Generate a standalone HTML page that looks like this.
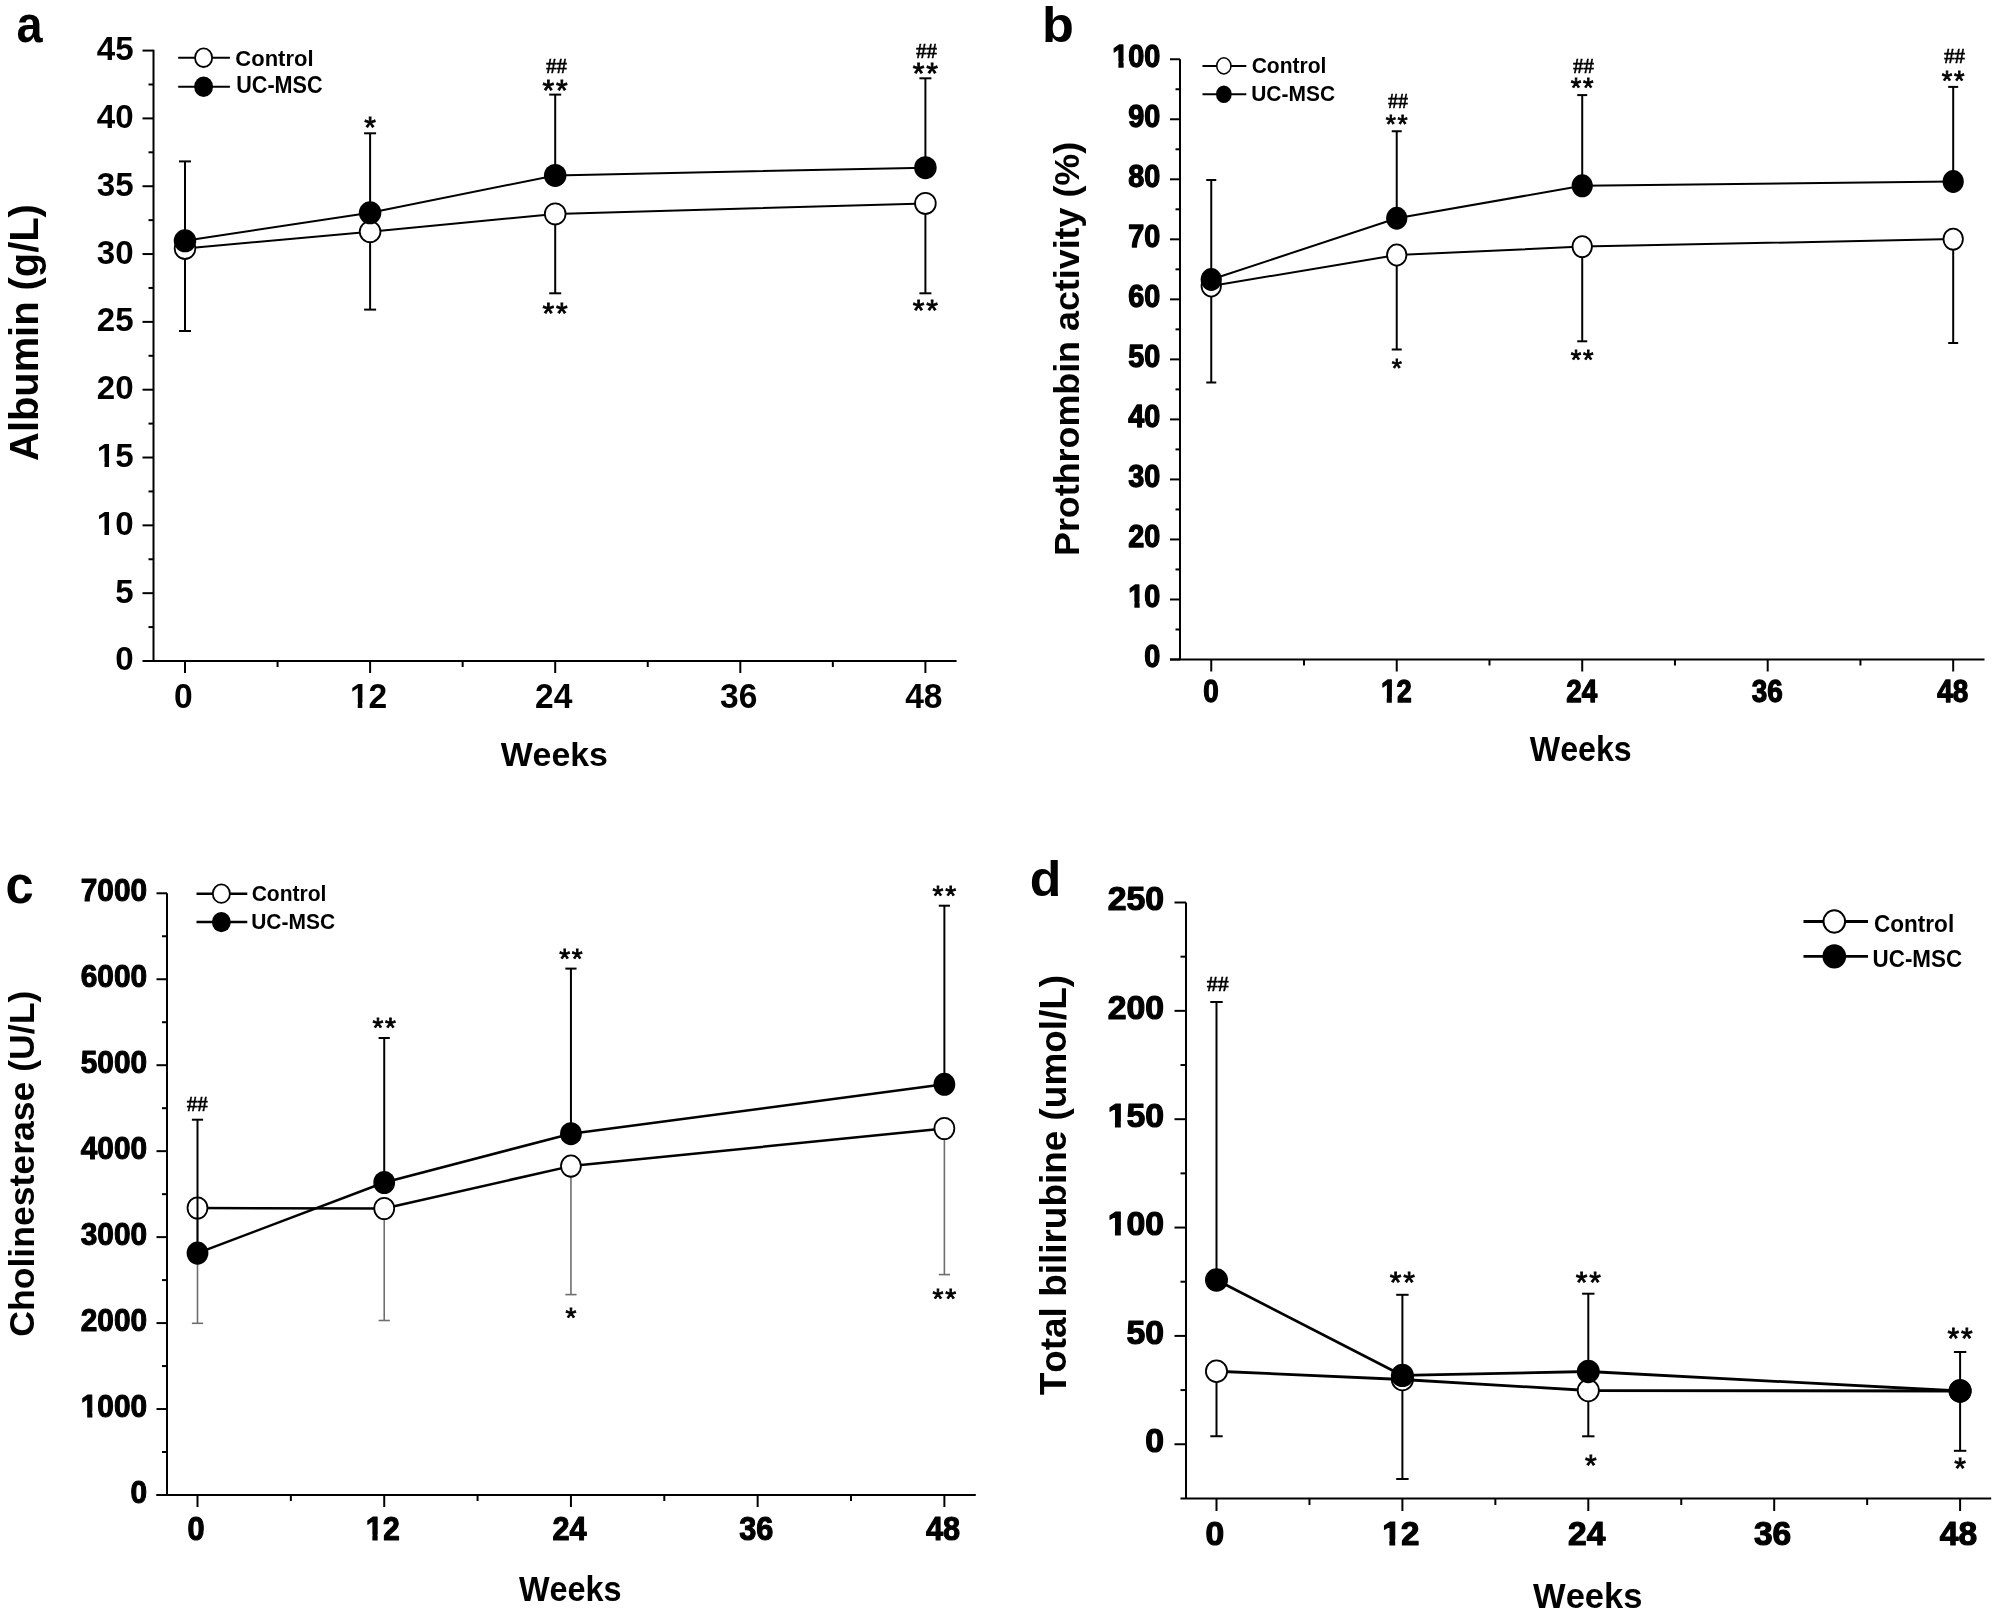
<!DOCTYPE html>
<html><head><meta charset="utf-8"><style>
html,body{margin:0;padding:0;background:#fff;overflow:hidden;}
svg{display:block;will-change:transform;}
text{font-kerning:none;}
</style></head><body>
<svg width="2001" height="1619" viewBox="0 0 2001 1619">
<rect width="2001" height="1619" fill="#fff"/>
<line x1="153.50" y1="49.80" x2="153.50" y2="661.00" stroke="#000" stroke-width="2"/>
<line x1="143.00" y1="661.00" x2="956.60" y2="661.00" stroke="#000" stroke-width="2"/>
<line x1="142.50" y1="661.00" x2="153.50" y2="661.00" stroke="#000" stroke-width="2"/>
<text x="115.16" y="670.46" font-family="Liberation Sans" font-weight="bold" font-size="33.757" textLength="18.40" lengthAdjust="spacingAndGlyphs">0</text>
<line x1="142.50" y1="593.17" x2="153.50" y2="593.17" stroke="#000" stroke-width="2"/>
<text x="115.16" y="602.64" font-family="Liberation Sans" font-weight="bold" font-size="33.757" textLength="18.40" lengthAdjust="spacingAndGlyphs">5</text>
<line x1="142.50" y1="525.35" x2="153.50" y2="525.35" stroke="#000" stroke-width="2"/>
<text x="96.75" y="534.81" font-family="Liberation Sans" font-weight="bold" font-size="33.757" textLength="36.80" lengthAdjust="spacingAndGlyphs">10</text>
<line x1="142.50" y1="457.52" x2="153.50" y2="457.52" stroke="#000" stroke-width="2"/>
<text x="96.75" y="466.99" font-family="Liberation Sans" font-weight="bold" font-size="33.757" textLength="36.80" lengthAdjust="spacingAndGlyphs">15</text>
<line x1="142.50" y1="389.70" x2="153.50" y2="389.70" stroke="#000" stroke-width="2"/>
<text x="96.75" y="399.16" font-family="Liberation Sans" font-weight="bold" font-size="33.757" textLength="36.80" lengthAdjust="spacingAndGlyphs">20</text>
<line x1="142.50" y1="321.88" x2="153.50" y2="321.88" stroke="#000" stroke-width="2"/>
<text x="96.75" y="331.34" font-family="Liberation Sans" font-weight="bold" font-size="33.757" textLength="36.80" lengthAdjust="spacingAndGlyphs">25</text>
<line x1="142.50" y1="254.05" x2="153.50" y2="254.05" stroke="#000" stroke-width="2"/>
<text x="96.75" y="263.51" font-family="Liberation Sans" font-weight="bold" font-size="33.757" textLength="36.80" lengthAdjust="spacingAndGlyphs">30</text>
<line x1="142.50" y1="186.23" x2="153.50" y2="186.23" stroke="#000" stroke-width="2"/>
<text x="96.75" y="195.69" font-family="Liberation Sans" font-weight="bold" font-size="33.757" textLength="36.80" lengthAdjust="spacingAndGlyphs">35</text>
<line x1="142.50" y1="118.40" x2="153.50" y2="118.40" stroke="#000" stroke-width="2"/>
<text x="96.75" y="127.86" font-family="Liberation Sans" font-weight="bold" font-size="33.757" textLength="36.80" lengthAdjust="spacingAndGlyphs">40</text>
<line x1="142.50" y1="50.58" x2="153.50" y2="50.58" stroke="#000" stroke-width="2"/>
<text x="96.75" y="60.04" font-family="Liberation Sans" font-weight="bold" font-size="33.757" textLength="36.80" lengthAdjust="spacingAndGlyphs">45</text>
<line x1="148.50" y1="627.09" x2="153.50" y2="627.09" stroke="#000" stroke-width="2"/>
<line x1="148.50" y1="559.26" x2="153.50" y2="559.26" stroke="#000" stroke-width="2"/>
<line x1="148.50" y1="491.44" x2="153.50" y2="491.44" stroke="#000" stroke-width="2"/>
<line x1="148.50" y1="423.61" x2="153.50" y2="423.61" stroke="#000" stroke-width="2"/>
<line x1="148.50" y1="355.79" x2="153.50" y2="355.79" stroke="#000" stroke-width="2"/>
<line x1="148.50" y1="287.96" x2="153.50" y2="287.96" stroke="#000" stroke-width="2"/>
<line x1="148.50" y1="220.14" x2="153.50" y2="220.14" stroke="#000" stroke-width="2"/>
<line x1="148.50" y1="152.31" x2="153.50" y2="152.31" stroke="#000" stroke-width="2"/>
<line x1="148.50" y1="84.49" x2="153.50" y2="84.49" stroke="#000" stroke-width="2"/>
<line x1="185.00" y1="661.00" x2="185.00" y2="673.00" stroke="#000" stroke-width="2"/>
<text x="174.12" y="707.70" font-family="Liberation Sans" font-weight="bold" font-size="34.384" textLength="18.68" lengthAdjust="spacingAndGlyphs">0</text>
<line x1="370.10" y1="661.00" x2="370.10" y2="673.00" stroke="#000" stroke-width="2"/>
<text x="349.88" y="707.70" font-family="Liberation Sans" font-weight="bold" font-size="34.384" textLength="37.36" lengthAdjust="spacingAndGlyphs">12</text>
<line x1="555.20" y1="661.00" x2="555.20" y2="673.00" stroke="#000" stroke-width="2"/>
<text x="534.98" y="707.70" font-family="Liberation Sans" font-weight="bold" font-size="34.384" textLength="37.36" lengthAdjust="spacingAndGlyphs">24</text>
<line x1="740.30" y1="661.00" x2="740.30" y2="673.00" stroke="#000" stroke-width="2"/>
<text x="720.08" y="707.70" font-family="Liberation Sans" font-weight="bold" font-size="34.384" textLength="37.36" lengthAdjust="spacingAndGlyphs">36</text>
<line x1="925.40" y1="661.00" x2="925.40" y2="673.00" stroke="#000" stroke-width="2"/>
<text x="905.18" y="707.70" font-family="Liberation Sans" font-weight="bold" font-size="34.384" textLength="37.36" lengthAdjust="spacingAndGlyphs">48</text>
<line x1="277.55" y1="661.00" x2="277.55" y2="667.00" stroke="#000" stroke-width="2"/>
<line x1="462.65" y1="661.00" x2="462.65" y2="667.00" stroke="#000" stroke-width="2"/>
<line x1="647.75" y1="661.00" x2="647.75" y2="667.00" stroke="#000" stroke-width="2"/>
<line x1="832.85" y1="661.00" x2="832.85" y2="667.00" stroke="#000" stroke-width="2"/>
<text x="500.67" y="766.46" font-family="Liberation Sans" font-weight="bold" font-size="33.954" textLength="107.22" lengthAdjust="spacingAndGlyphs">Weeks</text>
<text x="38.35" y="460.89" font-family="Liberation Sans" font-weight="bold" font-size="40.916" textLength="256.78" lengthAdjust="spacingAndGlyphs" transform="rotate(-90 38.35 460.89)">Albumin (g/L)</text>
<text x="16.53" y="41.50" font-family="Liberation Sans" font-weight="bold" font-size="51.291" textLength="26.08" lengthAdjust="spacingAndGlyphs">a</text>
<line x1="178.20" y1="57.70" x2="229.90" y2="57.70" stroke="#000" stroke-width="2"/>
<ellipse cx="203.60" cy="57.70" rx="8.55" ry="9.30" fill="#fff" stroke="#000" stroke-width="1.8"/>
<line x1="178.20" y1="86.80" x2="229.90" y2="86.80" stroke="#000" stroke-width="2"/>
<ellipse cx="203.60" cy="86.80" rx="9.45" ry="10.20" fill="#000"/>
<text x="235.30" y="65.97" font-family="Liberation Sans" font-weight="bold" font-size="22.881" textLength="78.26" lengthAdjust="spacingAndGlyphs">Control</text>
<text x="236.20" y="93.46" font-family="Liberation Sans" font-weight="bold" font-size="24.153" textLength="86.39" lengthAdjust="spacingAndGlyphs">UC-MSC</text>
<line x1="185.00" y1="248.50" x2="185.00" y2="331.00" stroke="#000" stroke-width="2"/>
<line x1="179.00" y1="331.00" x2="191.00" y2="331.00" stroke="#000" stroke-width="2"/>
<line x1="370.10" y1="231.70" x2="370.10" y2="309.60" stroke="#000" stroke-width="2"/>
<line x1="364.10" y1="309.60" x2="376.10" y2="309.60" stroke="#000" stroke-width="2"/>
<line x1="555.20" y1="213.90" x2="555.20" y2="293.30" stroke="#000" stroke-width="2"/>
<line x1="549.20" y1="293.30" x2="561.20" y2="293.30" stroke="#000" stroke-width="2"/>
<line x1="925.40" y1="203.40" x2="925.40" y2="293.30" stroke="#000" stroke-width="2"/>
<line x1="919.40" y1="293.30" x2="931.40" y2="293.30" stroke="#000" stroke-width="2"/>
<polyline points="185.00,248.50 370.10,231.70 555.20,213.90 925.40,203.40" fill="none" stroke="#000" stroke-width="2" stroke-linejoin="round"/>
<ellipse cx="185.00" cy="248.50" rx="10.35" ry="10.50" fill="#fff" stroke="#000" stroke-width="1.8"/>
<ellipse cx="370.10" cy="231.70" rx="10.35" ry="10.50" fill="#fff" stroke="#000" stroke-width="1.8"/>
<ellipse cx="555.20" cy="213.90" rx="10.35" ry="10.50" fill="#fff" stroke="#000" stroke-width="1.8"/>
<ellipse cx="925.40" cy="203.40" rx="10.35" ry="10.50" fill="#fff" stroke="#000" stroke-width="1.8"/>
<line x1="185.00" y1="240.80" x2="185.00" y2="161.40" stroke="#000" stroke-width="2"/>
<line x1="179.00" y1="161.40" x2="191.00" y2="161.40" stroke="#000" stroke-width="2"/>
<line x1="370.10" y1="212.80" x2="370.10" y2="133.30" stroke="#000" stroke-width="2"/>
<line x1="364.10" y1="133.30" x2="376.10" y2="133.30" stroke="#000" stroke-width="2"/>
<line x1="555.20" y1="175.40" x2="555.20" y2="94.60" stroke="#000" stroke-width="2"/>
<line x1="549.20" y1="94.60" x2="561.20" y2="94.60" stroke="#000" stroke-width="2"/>
<line x1="925.40" y1="167.70" x2="925.40" y2="78.30" stroke="#000" stroke-width="2"/>
<line x1="919.40" y1="78.30" x2="931.40" y2="78.30" stroke="#000" stroke-width="2"/>
<polyline points="185.00,240.80 370.10,212.80 555.20,175.40 925.40,167.70" fill="none" stroke="#000" stroke-width="2" stroke-linejoin="round"/>
<ellipse cx="185.00" cy="240.80" rx="11.25" ry="11.50" fill="#000"/>
<ellipse cx="370.10" cy="212.80" rx="11.25" ry="11.50" fill="#000"/>
<ellipse cx="555.20" cy="175.40" rx="11.25" ry="11.50" fill="#000"/>
<ellipse cx="925.40" cy="167.70" rx="11.25" ry="11.50" fill="#000"/>
<text x="370.10" y="136.61" font-family="Liberation Sans" font-weight="normal" font-size="30" text-anchor="middle" stroke="#000" stroke-width="0.8">*</text>
<text x="556.10" y="99.81" font-family="Liberation Sans" font-weight="normal" font-size="30" text-anchor="middle" stroke="#000" stroke-width="0.8" letter-spacing="1.8">**</text>
<text x="556.40" y="73.00" font-family="Liberation Serif" font-weight="bold" font-size="21" text-anchor="middle" stroke="#000" stroke-width="0.3">##</text>
<text x="556.10" y="322.51" font-family="Liberation Sans" font-weight="normal" font-size="30" text-anchor="middle" stroke="#000" stroke-width="0.8" letter-spacing="1.8">**</text>
<text x="926.30" y="83.31" font-family="Liberation Sans" font-weight="normal" font-size="30" text-anchor="middle" stroke="#000" stroke-width="0.8" letter-spacing="1.8">**</text>
<text x="926.60" y="57.70" font-family="Liberation Serif" font-weight="bold" font-size="21" text-anchor="middle" stroke="#000" stroke-width="0.3">##</text>
<text x="926.30" y="319.71" font-family="Liberation Sans" font-weight="normal" font-size="30" text-anchor="middle" stroke="#000" stroke-width="0.8" letter-spacing="1.8">**</text>
<line x1="1180.00" y1="59.25" x2="1180.00" y2="659.50" stroke="#000" stroke-width="2"/>
<line x1="1170.00" y1="659.50" x2="1984.50" y2="659.50" stroke="#000" stroke-width="2"/>
<line x1="1170.00" y1="659.50" x2="1180.00" y2="659.50" stroke="#000" stroke-width="2"/>
<text x="1144.33" y="666.89" font-family="Liberation Sans" font-weight="bold" font-size="30.579" textLength="16.00" lengthAdjust="spacingAndGlyphs" stroke="#000" stroke-width="1.3" stroke-linejoin="round">0</text>
<line x1="1170.00" y1="599.48" x2="1180.00" y2="599.48" stroke="#000" stroke-width="2"/>
<text x="1128.34" y="606.87" font-family="Liberation Sans" font-weight="bold" font-size="30.579" textLength="31.99" lengthAdjust="spacingAndGlyphs" stroke="#000" stroke-width="1.3" stroke-linejoin="round">10</text>
<line x1="1170.00" y1="539.45" x2="1180.00" y2="539.45" stroke="#000" stroke-width="2"/>
<text x="1128.34" y="546.84" font-family="Liberation Sans" font-weight="bold" font-size="30.579" textLength="31.99" lengthAdjust="spacingAndGlyphs" stroke="#000" stroke-width="1.3" stroke-linejoin="round">20</text>
<line x1="1170.00" y1="479.42" x2="1180.00" y2="479.42" stroke="#000" stroke-width="2"/>
<text x="1128.34" y="486.82" font-family="Liberation Sans" font-weight="bold" font-size="30.579" textLength="31.99" lengthAdjust="spacingAndGlyphs" stroke="#000" stroke-width="1.3" stroke-linejoin="round">30</text>
<line x1="1170.00" y1="419.40" x2="1180.00" y2="419.40" stroke="#000" stroke-width="2"/>
<text x="1128.34" y="426.79" font-family="Liberation Sans" font-weight="bold" font-size="30.579" textLength="31.99" lengthAdjust="spacingAndGlyphs" stroke="#000" stroke-width="1.3" stroke-linejoin="round">40</text>
<line x1="1170.00" y1="359.38" x2="1180.00" y2="359.38" stroke="#000" stroke-width="2"/>
<text x="1128.34" y="366.77" font-family="Liberation Sans" font-weight="bold" font-size="30.579" textLength="31.99" lengthAdjust="spacingAndGlyphs" stroke="#000" stroke-width="1.3" stroke-linejoin="round">50</text>
<line x1="1170.00" y1="299.35" x2="1180.00" y2="299.35" stroke="#000" stroke-width="2"/>
<text x="1128.34" y="306.74" font-family="Liberation Sans" font-weight="bold" font-size="30.579" textLength="31.99" lengthAdjust="spacingAndGlyphs" stroke="#000" stroke-width="1.3" stroke-linejoin="round">60</text>
<line x1="1170.00" y1="239.32" x2="1180.00" y2="239.32" stroke="#000" stroke-width="2"/>
<text x="1128.34" y="246.72" font-family="Liberation Sans" font-weight="bold" font-size="30.579" textLength="31.99" lengthAdjust="spacingAndGlyphs" stroke="#000" stroke-width="1.3" stroke-linejoin="round">70</text>
<line x1="1170.00" y1="179.30" x2="1180.00" y2="179.30" stroke="#000" stroke-width="2"/>
<text x="1128.34" y="186.69" font-family="Liberation Sans" font-weight="bold" font-size="30.579" textLength="31.99" lengthAdjust="spacingAndGlyphs" stroke="#000" stroke-width="1.3" stroke-linejoin="round">80</text>
<line x1="1170.00" y1="119.27" x2="1180.00" y2="119.27" stroke="#000" stroke-width="2"/>
<text x="1128.34" y="126.67" font-family="Liberation Sans" font-weight="bold" font-size="30.579" textLength="31.99" lengthAdjust="spacingAndGlyphs" stroke="#000" stroke-width="1.3" stroke-linejoin="round">90</text>
<line x1="1170.00" y1="59.25" x2="1180.00" y2="59.25" stroke="#000" stroke-width="2"/>
<text x="1112.34" y="66.64" font-family="Liberation Sans" font-weight="bold" font-size="30.579" textLength="47.99" lengthAdjust="spacingAndGlyphs" stroke="#000" stroke-width="1.3" stroke-linejoin="round">100</text>
<line x1="1175.50" y1="629.49" x2="1180.00" y2="629.49" stroke="#000" stroke-width="2"/>
<line x1="1175.50" y1="569.46" x2="1180.00" y2="569.46" stroke="#000" stroke-width="2"/>
<line x1="1175.50" y1="509.44" x2="1180.00" y2="509.44" stroke="#000" stroke-width="2"/>
<line x1="1175.50" y1="449.41" x2="1180.00" y2="449.41" stroke="#000" stroke-width="2"/>
<line x1="1175.50" y1="389.39" x2="1180.00" y2="389.39" stroke="#000" stroke-width="2"/>
<line x1="1175.50" y1="329.36" x2="1180.00" y2="329.36" stroke="#000" stroke-width="2"/>
<line x1="1175.50" y1="269.34" x2="1180.00" y2="269.34" stroke="#000" stroke-width="2"/>
<line x1="1175.50" y1="209.31" x2="1180.00" y2="209.31" stroke="#000" stroke-width="2"/>
<line x1="1175.50" y1="149.29" x2="1180.00" y2="149.29" stroke="#000" stroke-width="2"/>
<line x1="1175.50" y1="89.26" x2="1180.00" y2="89.26" stroke="#000" stroke-width="2"/>
<line x1="1211.25" y1="659.50" x2="1211.25" y2="671.50" stroke="#000" stroke-width="2"/>
<text x="1203.14" y="702.45" font-family="Liberation Sans" font-weight="bold" font-size="31.375" textLength="15.48" lengthAdjust="spacingAndGlyphs" stroke="#000" stroke-width="1.3" stroke-linejoin="round">0</text>
<line x1="1396.73" y1="659.50" x2="1396.73" y2="671.50" stroke="#000" stroke-width="2"/>
<text x="1380.88" y="702.45" font-family="Liberation Sans" font-weight="bold" font-size="31.375" textLength="30.97" lengthAdjust="spacingAndGlyphs" stroke="#000" stroke-width="1.3" stroke-linejoin="round">12</text>
<line x1="1582.22" y1="659.50" x2="1582.22" y2="671.50" stroke="#000" stroke-width="2"/>
<text x="1566.36" y="702.45" font-family="Liberation Sans" font-weight="bold" font-size="31.375" textLength="30.97" lengthAdjust="spacingAndGlyphs" stroke="#000" stroke-width="1.3" stroke-linejoin="round">24</text>
<line x1="1767.70" y1="659.50" x2="1767.70" y2="671.50" stroke="#000" stroke-width="2"/>
<text x="1751.85" y="702.45" font-family="Liberation Sans" font-weight="bold" font-size="31.375" textLength="30.97" lengthAdjust="spacingAndGlyphs" stroke="#000" stroke-width="1.3" stroke-linejoin="round">36</text>
<line x1="1953.19" y1="659.50" x2="1953.19" y2="671.50" stroke="#000" stroke-width="2"/>
<text x="1937.33" y="702.45" font-family="Liberation Sans" font-weight="bold" font-size="31.375" textLength="30.97" lengthAdjust="spacingAndGlyphs" stroke="#000" stroke-width="1.3" stroke-linejoin="round">48</text>
<line x1="1303.99" y1="659.50" x2="1303.99" y2="665.50" stroke="#000" stroke-width="2"/>
<line x1="1489.48" y1="659.50" x2="1489.48" y2="665.50" stroke="#000" stroke-width="2"/>
<line x1="1674.96" y1="659.50" x2="1674.96" y2="665.50" stroke="#000" stroke-width="2"/>
<line x1="1860.44" y1="659.50" x2="1860.44" y2="665.50" stroke="#000" stroke-width="2"/>
<text x="1529.87" y="761.46" font-family="Liberation Sans" font-weight="bold" font-size="34.384" textLength="101.75" lengthAdjust="spacingAndGlyphs">Weeks</text>
<text x="1079.10" y="556.00" font-family="Liberation Sans" font-weight="bold" font-size="35.174" textLength="414.18" lengthAdjust="spacingAndGlyphs" transform="rotate(-90 1079.10 556.00)">Prothrombin activity (%)</text>
<text x="1041.96" y="41.52" font-family="Liberation Sans" font-weight="bold" font-size="49.566" textLength="31.88" lengthAdjust="spacingAndGlyphs">b</text>
<line x1="1202.50" y1="65.90" x2="1246.30" y2="65.90" stroke="#000" stroke-width="2"/>
<ellipse cx="1223.85" cy="65.90" rx="7.10" ry="8.05" fill="#fff" stroke="#000" stroke-width="1.5"/>
<line x1="1202.50" y1="94.20" x2="1246.30" y2="94.20" stroke="#000" stroke-width="2"/>
<ellipse cx="1223.85" cy="94.20" rx="7.85" ry="8.80" fill="#000"/>
<text x="1251.64" y="72.77" font-family="Liberation Sans" font-weight="bold" font-size="22.599" textLength="74.85" lengthAdjust="spacingAndGlyphs">Control</text>
<text x="1251.24" y="101.03" font-family="Liberation Sans" font-weight="bold" font-size="21.893" textLength="83.83" lengthAdjust="spacingAndGlyphs">UC-MSC</text>
<line x1="1211.25" y1="286.00" x2="1211.25" y2="382.50" stroke="#000" stroke-width="2"/>
<line x1="1206.25" y1="382.50" x2="1216.25" y2="382.50" stroke="#000" stroke-width="2"/>
<line x1="1396.73" y1="255.00" x2="1396.73" y2="349.50" stroke="#000" stroke-width="2"/>
<line x1="1391.73" y1="349.50" x2="1401.73" y2="349.50" stroke="#000" stroke-width="2"/>
<line x1="1582.22" y1="246.60" x2="1582.22" y2="341.30" stroke="#000" stroke-width="2"/>
<line x1="1577.22" y1="341.30" x2="1587.22" y2="341.30" stroke="#000" stroke-width="2"/>
<line x1="1953.19" y1="239.10" x2="1953.19" y2="343.00" stroke="#000" stroke-width="2"/>
<line x1="1948.19" y1="343.00" x2="1958.19" y2="343.00" stroke="#000" stroke-width="2"/>
<polyline points="1211.25,286.00 1396.73,255.00 1582.22,246.60 1953.19,239.10" fill="none" stroke="#000" stroke-width="2" stroke-linejoin="round"/>
<ellipse cx="1211.25" cy="286.00" rx="9.70" ry="10.55" fill="#fff" stroke="#000" stroke-width="1.8"/>
<ellipse cx="1396.73" cy="255.00" rx="9.70" ry="10.55" fill="#fff" stroke="#000" stroke-width="1.8"/>
<ellipse cx="1582.22" cy="246.60" rx="9.70" ry="10.55" fill="#fff" stroke="#000" stroke-width="1.8"/>
<ellipse cx="1953.19" cy="239.10" rx="9.70" ry="10.55" fill="#fff" stroke="#000" stroke-width="1.8"/>
<line x1="1211.25" y1="279.50" x2="1211.25" y2="180.00" stroke="#000" stroke-width="2"/>
<line x1="1206.25" y1="180.00" x2="1216.25" y2="180.00" stroke="#000" stroke-width="2"/>
<line x1="1396.73" y1="218.25" x2="1396.73" y2="131.25" stroke="#000" stroke-width="2"/>
<line x1="1391.73" y1="131.25" x2="1401.73" y2="131.25" stroke="#000" stroke-width="2"/>
<line x1="1582.22" y1="185.80" x2="1582.22" y2="95.10" stroke="#000" stroke-width="2"/>
<line x1="1577.22" y1="95.10" x2="1587.22" y2="95.10" stroke="#000" stroke-width="2"/>
<line x1="1953.19" y1="181.50" x2="1953.19" y2="86.90" stroke="#000" stroke-width="2"/>
<line x1="1948.19" y1="86.90" x2="1958.19" y2="86.90" stroke="#000" stroke-width="2"/>
<polyline points="1211.25,279.50 1396.73,218.25 1582.22,185.80 1953.19,181.50" fill="none" stroke="#000" stroke-width="2" stroke-linejoin="round"/>
<ellipse cx="1211.25" cy="279.50" rx="10.60" ry="11.45" fill="#000"/>
<ellipse cx="1396.73" cy="218.25" rx="10.60" ry="11.45" fill="#000"/>
<ellipse cx="1582.22" cy="185.80" rx="10.60" ry="11.45" fill="#000"/>
<ellipse cx="1953.19" cy="181.50" rx="10.60" ry="11.45" fill="#000"/>
<text x="1397.63" y="132.76" font-family="Liberation Sans" font-weight="normal" font-size="26" text-anchor="middle" stroke="#000" stroke-width="0.8" letter-spacing="1.8">**</text>
<text x="1397.93" y="107.50" font-family="Liberation Serif" font-weight="bold" font-size="20" text-anchor="middle" stroke="#000" stroke-width="0.3">##</text>
<text x="1396.73" y="376.76" font-family="Liberation Sans" font-weight="normal" font-size="26" text-anchor="middle" stroke="#000" stroke-width="0.8">*</text>
<text x="1583.12" y="97.00" font-family="Liberation Sans" font-weight="normal" font-size="27" text-anchor="middle" stroke="#000" stroke-width="0.8" letter-spacing="1.8">**</text>
<text x="1583.42" y="72.60" font-family="Liberation Serif" font-weight="bold" font-size="21" text-anchor="middle" stroke="#000" stroke-width="0.3">##</text>
<text x="1583.12" y="368.60" font-family="Liberation Sans" font-weight="normal" font-size="27" text-anchor="middle" stroke="#000" stroke-width="0.8" letter-spacing="1.8">**</text>
<text x="1954.09" y="89.50" font-family="Liberation Sans" font-weight="normal" font-size="27" text-anchor="middle" stroke="#000" stroke-width="0.8" letter-spacing="1.8">**</text>
<text x="1954.39" y="62.60" font-family="Liberation Serif" font-weight="bold" font-size="21" text-anchor="middle" stroke="#000" stroke-width="0.3">##</text>
<line x1="167.00" y1="893.25" x2="167.00" y2="1495.00" stroke="#000" stroke-width="2"/>
<line x1="156.50" y1="1495.00" x2="975.80" y2="1495.00" stroke="#000" stroke-width="2"/>
<line x1="156.50" y1="1495.00" x2="167.00" y2="1495.00" stroke="#000" stroke-width="2"/>
<text x="130.49" y="1503.03" font-family="Liberation Sans" font-weight="bold" font-size="31.638" textLength="16.58" lengthAdjust="spacingAndGlyphs" stroke="#000" stroke-width="1.1" stroke-linejoin="round">0</text>
<line x1="156.50" y1="1409.04" x2="167.00" y2="1409.04" stroke="#000" stroke-width="2"/>
<text x="80.76" y="1417.07" font-family="Liberation Sans" font-weight="bold" font-size="31.638" textLength="66.31" lengthAdjust="spacingAndGlyphs" stroke="#000" stroke-width="1.1" stroke-linejoin="round">1000</text>
<line x1="156.50" y1="1323.08" x2="167.00" y2="1323.08" stroke="#000" stroke-width="2"/>
<text x="80.76" y="1331.11" font-family="Liberation Sans" font-weight="bold" font-size="31.638" textLength="66.31" lengthAdjust="spacingAndGlyphs" stroke="#000" stroke-width="1.1" stroke-linejoin="round">2000</text>
<line x1="156.50" y1="1237.12" x2="167.00" y2="1237.12" stroke="#000" stroke-width="2"/>
<text x="80.76" y="1245.15" font-family="Liberation Sans" font-weight="bold" font-size="31.638" textLength="66.31" lengthAdjust="spacingAndGlyphs" stroke="#000" stroke-width="1.1" stroke-linejoin="round">3000</text>
<line x1="156.50" y1="1151.16" x2="167.00" y2="1151.16" stroke="#000" stroke-width="2"/>
<text x="80.76" y="1159.19" font-family="Liberation Sans" font-weight="bold" font-size="31.638" textLength="66.31" lengthAdjust="spacingAndGlyphs" stroke="#000" stroke-width="1.1" stroke-linejoin="round">4000</text>
<line x1="156.50" y1="1065.20" x2="167.00" y2="1065.20" stroke="#000" stroke-width="2"/>
<text x="80.76" y="1073.23" font-family="Liberation Sans" font-weight="bold" font-size="31.638" textLength="66.31" lengthAdjust="spacingAndGlyphs" stroke="#000" stroke-width="1.1" stroke-linejoin="round">5000</text>
<line x1="156.50" y1="979.24" x2="167.00" y2="979.24" stroke="#000" stroke-width="2"/>
<text x="80.76" y="987.27" font-family="Liberation Sans" font-weight="bold" font-size="31.638" textLength="66.31" lengthAdjust="spacingAndGlyphs" stroke="#000" stroke-width="1.1" stroke-linejoin="round">6000</text>
<line x1="156.50" y1="893.28" x2="167.00" y2="893.28" stroke="#000" stroke-width="2"/>
<text x="80.76" y="901.31" font-family="Liberation Sans" font-weight="bold" font-size="31.638" textLength="66.31" lengthAdjust="spacingAndGlyphs" stroke="#000" stroke-width="1.1" stroke-linejoin="round">7000</text>
<line x1="162.00" y1="1452.02" x2="167.00" y2="1452.02" stroke="#000" stroke-width="2"/>
<line x1="162.00" y1="1366.06" x2="167.00" y2="1366.06" stroke="#000" stroke-width="2"/>
<line x1="162.00" y1="1280.10" x2="167.00" y2="1280.10" stroke="#000" stroke-width="2"/>
<line x1="162.00" y1="1194.14" x2="167.00" y2="1194.14" stroke="#000" stroke-width="2"/>
<line x1="162.00" y1="1108.18" x2="167.00" y2="1108.18" stroke="#000" stroke-width="2"/>
<line x1="162.00" y1="1022.22" x2="167.00" y2="1022.22" stroke="#000" stroke-width="2"/>
<line x1="162.00" y1="936.26" x2="167.00" y2="936.26" stroke="#000" stroke-width="2"/>
<line x1="197.50" y1="1495.00" x2="197.50" y2="1507.00" stroke="#000" stroke-width="2"/>
<text x="187.56" y="1540.25" font-family="Liberation Sans" font-weight="bold" font-size="33.381" textLength="17.08" lengthAdjust="spacingAndGlyphs" stroke="#000" stroke-width="1.1" stroke-linejoin="round">0</text>
<line x1="384.22" y1="1495.00" x2="384.22" y2="1507.00" stroke="#000" stroke-width="2"/>
<text x="365.74" y="1540.25" font-family="Liberation Sans" font-weight="bold" font-size="33.381" textLength="34.16" lengthAdjust="spacingAndGlyphs" stroke="#000" stroke-width="1.1" stroke-linejoin="round">12</text>
<line x1="570.94" y1="1495.00" x2="570.94" y2="1507.00" stroke="#000" stroke-width="2"/>
<text x="552.46" y="1540.25" font-family="Liberation Sans" font-weight="bold" font-size="33.381" textLength="34.16" lengthAdjust="spacingAndGlyphs" stroke="#000" stroke-width="1.1" stroke-linejoin="round">24</text>
<line x1="757.66" y1="1495.00" x2="757.66" y2="1507.00" stroke="#000" stroke-width="2"/>
<text x="739.18" y="1540.25" font-family="Liberation Sans" font-weight="bold" font-size="33.381" textLength="34.16" lengthAdjust="spacingAndGlyphs" stroke="#000" stroke-width="1.1" stroke-linejoin="round">36</text>
<line x1="944.38" y1="1495.00" x2="944.38" y2="1507.00" stroke="#000" stroke-width="2"/>
<text x="925.90" y="1540.25" font-family="Liberation Sans" font-weight="bold" font-size="33.381" textLength="34.16" lengthAdjust="spacingAndGlyphs" stroke="#000" stroke-width="1.1" stroke-linejoin="round">48</text>
<line x1="290.86" y1="1495.00" x2="290.86" y2="1501.00" stroke="#000" stroke-width="2"/>
<line x1="477.58" y1="1495.00" x2="477.58" y2="1501.00" stroke="#000" stroke-width="2"/>
<line x1="664.30" y1="1495.00" x2="664.30" y2="1501.00" stroke="#000" stroke-width="2"/>
<line x1="851.02" y1="1495.00" x2="851.02" y2="1501.00" stroke="#000" stroke-width="2"/>
<text x="518.97" y="1600.56" font-family="Liberation Sans" font-weight="bold" font-size="34.384" textLength="102.66" lengthAdjust="spacingAndGlyphs">Weeks</text>
<text x="33.85" y="1336.76" font-family="Liberation Sans" font-weight="bold" font-size="34.605" textLength="346.03" lengthAdjust="spacingAndGlyphs" transform="rotate(-90 33.85 1336.76)">Cholinesterase (U/L)</text>
<text x="5.62" y="902.50" font-family="Liberation Sans" font-weight="bold" font-size="51.656" textLength="28.16" lengthAdjust="spacingAndGlyphs">c</text>
<line x1="196.50" y1="893.70" x2="247.30" y2="893.70" stroke="#000" stroke-width="2.5"/>
<ellipse cx="221.35" cy="893.70" rx="8.55" ry="9.25" fill="#fff" stroke="#000" stroke-width="1.8"/>
<line x1="196.50" y1="922.10" x2="247.30" y2="922.10" stroke="#000" stroke-width="2.5"/>
<ellipse cx="221.35" cy="922.10" rx="9.45" ry="10.15" fill="#000"/>
<text x="251.64" y="901.04" font-family="Liberation Sans" font-weight="bold" font-size="21.186" textLength="74.85" lengthAdjust="spacingAndGlyphs">Control</text>
<text x="251.24" y="929.29" font-family="Liberation Sans" font-weight="bold" font-size="21.186" textLength="83.83" lengthAdjust="spacingAndGlyphs">UC-MSC</text>
<line x1="197.50" y1="1208.00" x2="197.50" y2="1323.30" stroke="#6e6e6e" stroke-width="1.6"/>
<line x1="191.90" y1="1323.30" x2="203.10" y2="1323.30" stroke="#6e6e6e" stroke-width="1.6"/>
<line x1="384.22" y1="1208.50" x2="384.22" y2="1320.50" stroke="#6e6e6e" stroke-width="1.6"/>
<line x1="378.62" y1="1320.50" x2="389.82" y2="1320.50" stroke="#6e6e6e" stroke-width="1.6"/>
<line x1="570.94" y1="1166.10" x2="570.94" y2="1294.60" stroke="#6e6e6e" stroke-width="1.6"/>
<line x1="565.34" y1="1294.60" x2="576.54" y2="1294.60" stroke="#6e6e6e" stroke-width="1.6"/>
<line x1="944.38" y1="1128.50" x2="944.38" y2="1274.60" stroke="#6e6e6e" stroke-width="1.6"/>
<line x1="938.78" y1="1274.60" x2="949.98" y2="1274.60" stroke="#6e6e6e" stroke-width="1.6"/>
<polyline points="197.50,1208.00 384.22,1208.50 570.94,1166.10 944.38,1128.50" fill="none" stroke="#000" stroke-width="2.5" stroke-linejoin="round"/>
<ellipse cx="197.50" cy="1208.00" rx="9.95" ry="10.65" fill="#fff" stroke="#000" stroke-width="1.8"/>
<ellipse cx="384.22" cy="1208.50" rx="9.95" ry="10.65" fill="#fff" stroke="#000" stroke-width="1.8"/>
<ellipse cx="570.94" cy="1166.10" rx="9.95" ry="10.65" fill="#fff" stroke="#000" stroke-width="1.8"/>
<ellipse cx="944.38" cy="1128.50" rx="9.95" ry="10.65" fill="#fff" stroke="#000" stroke-width="1.8"/>
<line x1="197.50" y1="1253.10" x2="197.50" y2="1119.70" stroke="#000" stroke-width="2"/>
<line x1="191.90" y1="1119.70" x2="203.10" y2="1119.70" stroke="#000" stroke-width="2"/>
<line x1="384.22" y1="1182.50" x2="384.22" y2="1038.00" stroke="#000" stroke-width="2"/>
<line x1="378.62" y1="1038.00" x2="389.82" y2="1038.00" stroke="#000" stroke-width="2"/>
<line x1="570.94" y1="1133.70" x2="570.94" y2="968.60" stroke="#000" stroke-width="2"/>
<line x1="565.34" y1="968.60" x2="576.54" y2="968.60" stroke="#000" stroke-width="2"/>
<line x1="944.38" y1="1084.30" x2="944.38" y2="905.70" stroke="#000" stroke-width="2"/>
<line x1="938.78" y1="905.70" x2="949.98" y2="905.70" stroke="#000" stroke-width="2"/>
<polyline points="197.50,1253.10 384.22,1182.50 570.94,1133.70 944.38,1084.30" fill="none" stroke="#000" stroke-width="2.5" stroke-linejoin="round"/>
<ellipse cx="197.50" cy="1253.10" rx="10.90" ry="11.55" fill="#000"/>
<ellipse cx="384.22" cy="1182.50" rx="10.90" ry="11.55" fill="#000"/>
<ellipse cx="570.94" cy="1133.70" rx="10.90" ry="11.55" fill="#000"/>
<ellipse cx="944.38" cy="1084.30" rx="10.90" ry="11.55" fill="#000"/>
<text x="197.20" y="1111.30" font-family="Liberation Serif" font-weight="bold" font-size="21" text-anchor="middle" stroke="#000" stroke-width="0.3">##</text>
<text x="385.12" y="1037.19" font-family="Liberation Sans" font-weight="normal" font-size="28" text-anchor="middle" stroke="#000" stroke-width="0.8" letter-spacing="1.8">**</text>
<text x="571.84" y="967.94" font-family="Liberation Sans" font-weight="normal" font-size="28" text-anchor="middle" stroke="#000" stroke-width="0.8" letter-spacing="1.8">**</text>
<text x="570.94" y="1327.14" font-family="Liberation Sans" font-weight="normal" font-size="28" text-anchor="middle" stroke="#000" stroke-width="0.8">*</text>
<text x="945.28" y="905.14" font-family="Liberation Sans" font-weight="normal" font-size="28" text-anchor="middle" stroke="#000" stroke-width="0.8" letter-spacing="1.8">**</text>
<text x="945.28" y="1307.74" font-family="Liberation Sans" font-weight="normal" font-size="28" text-anchor="middle" stroke="#000" stroke-width="0.8" letter-spacing="1.8">**</text>
<line x1="1186.00" y1="902.50" x2="1186.00" y2="1498.50" stroke="#000" stroke-width="2"/>
<line x1="1180.50" y1="1498.50" x2="1991.20" y2="1498.50" stroke="#000" stroke-width="2"/>
<line x1="1174.50" y1="1444.25" x2="1186.00" y2="1444.25" stroke="#000" stroke-width="2"/>
<text x="1145.21" y="1452.02" font-family="Liberation Sans" font-weight="bold" font-size="33.475" textLength="18.77" lengthAdjust="spacingAndGlyphs" stroke="#000" stroke-width="1.2" stroke-linejoin="round">0</text>
<line x1="1174.50" y1="1335.90" x2="1186.00" y2="1335.90" stroke="#000" stroke-width="2"/>
<text x="1126.44" y="1343.67" font-family="Liberation Sans" font-weight="bold" font-size="33.475" textLength="37.54" lengthAdjust="spacingAndGlyphs" stroke="#000" stroke-width="1.2" stroke-linejoin="round">50</text>
<line x1="1174.50" y1="1227.55" x2="1186.00" y2="1227.55" stroke="#000" stroke-width="2"/>
<text x="1107.67" y="1235.32" font-family="Liberation Sans" font-weight="bold" font-size="33.475" textLength="56.31" lengthAdjust="spacingAndGlyphs" stroke="#000" stroke-width="1.2" stroke-linejoin="round">100</text>
<line x1="1174.50" y1="1119.20" x2="1186.00" y2="1119.20" stroke="#000" stroke-width="2"/>
<text x="1107.67" y="1126.97" font-family="Liberation Sans" font-weight="bold" font-size="33.475" textLength="56.31" lengthAdjust="spacingAndGlyphs" stroke="#000" stroke-width="1.2" stroke-linejoin="round">150</text>
<line x1="1174.50" y1="1010.85" x2="1186.00" y2="1010.85" stroke="#000" stroke-width="2"/>
<text x="1107.67" y="1018.62" font-family="Liberation Sans" font-weight="bold" font-size="33.475" textLength="56.31" lengthAdjust="spacingAndGlyphs" stroke="#000" stroke-width="1.2" stroke-linejoin="round">200</text>
<line x1="1174.50" y1="902.50" x2="1186.00" y2="902.50" stroke="#000" stroke-width="2"/>
<text x="1107.67" y="910.27" font-family="Liberation Sans" font-weight="bold" font-size="33.475" textLength="56.31" lengthAdjust="spacingAndGlyphs" stroke="#000" stroke-width="1.2" stroke-linejoin="round">250</text>
<line x1="1180.50" y1="1390.08" x2="1186.00" y2="1390.08" stroke="#000" stroke-width="2"/>
<line x1="1180.50" y1="1281.72" x2="1186.00" y2="1281.72" stroke="#000" stroke-width="2"/>
<line x1="1180.50" y1="1173.38" x2="1186.00" y2="1173.38" stroke="#000" stroke-width="2"/>
<line x1="1180.50" y1="1065.03" x2="1186.00" y2="1065.03" stroke="#000" stroke-width="2"/>
<line x1="1180.50" y1="956.68" x2="1186.00" y2="956.68" stroke="#000" stroke-width="2"/>
<line x1="1216.50" y1="1498.50" x2="1216.50" y2="1511.00" stroke="#000" stroke-width="2"/>
<text x="1205.57" y="1545.40" font-family="Liberation Sans" font-weight="bold" font-size="33.954" textLength="18.68" lengthAdjust="spacingAndGlyphs" stroke="#000" stroke-width="1.2" stroke-linejoin="round">0</text>
<line x1="1402.40" y1="1498.50" x2="1402.40" y2="1511.00" stroke="#000" stroke-width="2"/>
<text x="1382.13" y="1545.40" font-family="Liberation Sans" font-weight="bold" font-size="33.954" textLength="37.36" lengthAdjust="spacingAndGlyphs" stroke="#000" stroke-width="1.2" stroke-linejoin="round">12</text>
<line x1="1588.30" y1="1498.50" x2="1588.30" y2="1511.00" stroke="#000" stroke-width="2"/>
<text x="1568.04" y="1545.40" font-family="Liberation Sans" font-weight="bold" font-size="33.954" textLength="37.36" lengthAdjust="spacingAndGlyphs" stroke="#000" stroke-width="1.2" stroke-linejoin="round">24</text>
<line x1="1774.20" y1="1498.50" x2="1774.20" y2="1511.00" stroke="#000" stroke-width="2"/>
<text x="1753.94" y="1545.40" font-family="Liberation Sans" font-weight="bold" font-size="33.954" textLength="37.36" lengthAdjust="spacingAndGlyphs" stroke="#000" stroke-width="1.2" stroke-linejoin="round">36</text>
<line x1="1960.10" y1="1498.50" x2="1960.10" y2="1511.00" stroke="#000" stroke-width="2"/>
<text x="1939.84" y="1545.40" font-family="Liberation Sans" font-weight="bold" font-size="33.954" textLength="37.36" lengthAdjust="spacingAndGlyphs" stroke="#000" stroke-width="1.2" stroke-linejoin="round">48</text>
<line x1="1309.45" y1="1498.50" x2="1309.45" y2="1505.00" stroke="#000" stroke-width="2"/>
<line x1="1495.35" y1="1498.50" x2="1495.35" y2="1505.00" stroke="#000" stroke-width="2"/>
<line x1="1681.25" y1="1498.50" x2="1681.25" y2="1505.00" stroke="#000" stroke-width="2"/>
<line x1="1867.15" y1="1498.50" x2="1867.15" y2="1505.00" stroke="#000" stroke-width="2"/>
<text x="1533.07" y="1608.24" font-family="Liberation Sans" font-weight="bold" font-size="35.673" textLength="109.35" lengthAdjust="spacingAndGlyphs">Weeks</text>
<text x="1065.90" y="1395.31" font-family="Liberation Sans" font-weight="bold" font-size="37.791" textLength="420.45" lengthAdjust="spacingAndGlyphs" transform="rotate(-90 1065.90 1395.31)">Total bilirubine (umol/L)</text>
<text x="1029.78" y="896.11" font-family="Liberation Sans" font-weight="bold" font-size="49.974" textLength="31.64" lengthAdjust="spacingAndGlyphs">d</text>
<line x1="1803.50" y1="921.50" x2="1868.00" y2="921.50" stroke="#000" stroke-width="2.8"/>
<ellipse cx="1834.30" cy="921.50" rx="10.80" ry="11.20" fill="#fff" stroke="#000" stroke-width="2.0"/>
<line x1="1803.50" y1="956.40" x2="1868.00" y2="956.40" stroke="#000" stroke-width="2.8"/>
<ellipse cx="1834.30" cy="956.40" rx="11.80" ry="12.20" fill="#000"/>
<text x="1873.97" y="931.76" font-family="Liberation Sans" font-weight="bold" font-size="23.729" textLength="80.22" lengthAdjust="spacingAndGlyphs">Control</text>
<text x="1872.56" y="966.86" font-family="Liberation Sans" font-weight="bold" font-size="23.729" textLength="89.56" lengthAdjust="spacingAndGlyphs">UC-MSC</text>
<line x1="1216.50" y1="1371.25" x2="1216.50" y2="1436.25" stroke="#000" stroke-width="2"/>
<line x1="1210.30" y1="1436.25" x2="1222.70" y2="1436.25" stroke="#000" stroke-width="2"/>
<line x1="1402.40" y1="1379.50" x2="1402.40" y2="1479.00" stroke="#000" stroke-width="2"/>
<line x1="1396.20" y1="1479.00" x2="1408.60" y2="1479.00" stroke="#000" stroke-width="2"/>
<line x1="1588.30" y1="1390.50" x2="1588.30" y2="1436.30" stroke="#000" stroke-width="2"/>
<line x1="1582.10" y1="1436.30" x2="1594.50" y2="1436.30" stroke="#000" stroke-width="2"/>
<line x1="1960.10" y1="1391.00" x2="1960.10" y2="1450.80" stroke="#000" stroke-width="2"/>
<line x1="1953.90" y1="1450.80" x2="1966.30" y2="1450.80" stroke="#000" stroke-width="2"/>
<polyline points="1216.50,1371.25 1402.40,1379.50 1588.30,1390.50 1960.10,1391.00" fill="none" stroke="#000" stroke-width="2.8" stroke-linejoin="round"/>
<ellipse cx="1216.50" cy="1371.25" rx="10.60" ry="10.80" fill="#fff" stroke="#000" stroke-width="1.8"/>
<ellipse cx="1402.40" cy="1379.50" rx="10.60" ry="10.80" fill="#fff" stroke="#000" stroke-width="1.8"/>
<ellipse cx="1588.30" cy="1390.50" rx="10.60" ry="10.80" fill="#fff" stroke="#000" stroke-width="1.8"/>
<ellipse cx="1960.10" cy="1391.00" rx="10.60" ry="10.80" fill="#fff" stroke="#000" stroke-width="1.8"/>
<line x1="1216.50" y1="1280.00" x2="1216.50" y2="1002.00" stroke="#000" stroke-width="2"/>
<line x1="1210.30" y1="1002.00" x2="1222.70" y2="1002.00" stroke="#000" stroke-width="2"/>
<line x1="1402.40" y1="1375.40" x2="1402.40" y2="1294.80" stroke="#000" stroke-width="2"/>
<line x1="1396.20" y1="1294.80" x2="1408.60" y2="1294.80" stroke="#000" stroke-width="2"/>
<line x1="1588.30" y1="1371.50" x2="1588.30" y2="1293.70" stroke="#000" stroke-width="2"/>
<line x1="1582.10" y1="1293.70" x2="1594.50" y2="1293.70" stroke="#000" stroke-width="2"/>
<line x1="1960.10" y1="1391.00" x2="1960.10" y2="1352.00" stroke="#000" stroke-width="2"/>
<line x1="1953.90" y1="1352.00" x2="1966.30" y2="1352.00" stroke="#000" stroke-width="2"/>
<polyline points="1216.50,1280.00 1402.40,1375.40 1588.30,1371.50 1960.10,1391.00" fill="none" stroke="#000" stroke-width="2.8" stroke-linejoin="round"/>
<ellipse cx="1216.50" cy="1280.00" rx="11.50" ry="11.70" fill="#000"/>
<ellipse cx="1402.40" cy="1375.40" rx="11.50" ry="11.70" fill="#000"/>
<ellipse cx="1588.30" cy="1371.50" rx="11.50" ry="11.70" fill="#000"/>
<ellipse cx="1960.10" cy="1391.00" rx="11.50" ry="11.70" fill="#000"/>
<text x="1217.70" y="991.25" font-family="Liberation Serif" font-weight="bold" font-size="22" text-anchor="middle" stroke="#000" stroke-width="0.3">##</text>
<text x="1403.30" y="1291.51" font-family="Liberation Sans" font-weight="normal" font-size="30" text-anchor="middle" stroke="#000" stroke-width="0.8" letter-spacing="1.8">**</text>
<text x="1589.20" y="1291.71" font-family="Liberation Sans" font-weight="normal" font-size="30" text-anchor="middle" stroke="#000" stroke-width="0.8" letter-spacing="1.8">**</text>
<text x="1590.80" y="1474.51" font-family="Liberation Sans" font-weight="normal" font-size="30" text-anchor="middle" stroke="#000" stroke-width="0.8">*</text>
<text x="1961.00" y="1348.11" font-family="Liberation Sans" font-weight="normal" font-size="30" text-anchor="middle" stroke="#000" stroke-width="0.8" letter-spacing="1.8">**</text>
<text x="1960.10" y="1478.11" font-family="Liberation Sans" font-weight="normal" font-size="30" text-anchor="middle" stroke="#000" stroke-width="0.8">*</text>
<rect x="97.54" y="529.77" width="6.94" height="6.34" fill="#fff"/>
<rect x="109.02" y="529.77" width="6.52" height="6.34" fill="#fff"/>
<rect x="97.54" y="461.94" width="6.94" height="6.34" fill="#fff"/>
<rect x="109.02" y="461.94" width="6.52" height="6.34" fill="#fff"/>
<rect x="350.70" y="702.59" width="7.02" height="6.41" fill="#fff"/>
<rect x="362.33" y="702.59" width="6.60" height="6.41" fill="#fff"/>
<rect x="1128.20" y="601.50" width="6.20" height="7.32" fill="#fff"/>
<rect x="1139.65" y="601.50" width="5.84" height="7.32" fill="#fff"/>
<rect x="1112.20" y="61.27" width="6.20" height="7.32" fill="#fff"/>
<rect x="1123.65" y="61.27" width="5.84" height="7.32" fill="#fff"/>
<rect x="1380.68" y="697.00" width="6.04" height="7.40" fill="#fff"/>
<rect x="1391.85" y="697.00" width="5.69" height="7.40" fill="#fff"/>
<rect x="80.79" y="1411.69" width="6.38" height="7.23" fill="#fff"/>
<rect x="92.36" y="1411.69" width="6.00" height="7.23" fill="#fff"/>
<rect x="365.82" y="1534.69" width="6.53" height="7.41" fill="#fff"/>
<rect x="377.67" y="1534.69" width="6.14" height="7.41" fill="#fff"/>
<rect x="1107.90" y="1229.70" width="7.05" height="7.52" fill="#fff"/>
<rect x="1120.78" y="1229.70" width="6.62" height="7.52" fill="#fff"/>
<rect x="1107.90" y="1121.35" width="7.05" height="7.52" fill="#fff"/>
<rect x="1120.78" y="1121.35" width="6.62" height="7.52" fill="#fff"/>
<rect x="1382.35" y="1539.73" width="7.02" height="7.57" fill="#fff"/>
<rect x="1395.18" y="1539.73" width="6.60" height="7.57" fill="#fff"/>
</svg>
</body></html>
